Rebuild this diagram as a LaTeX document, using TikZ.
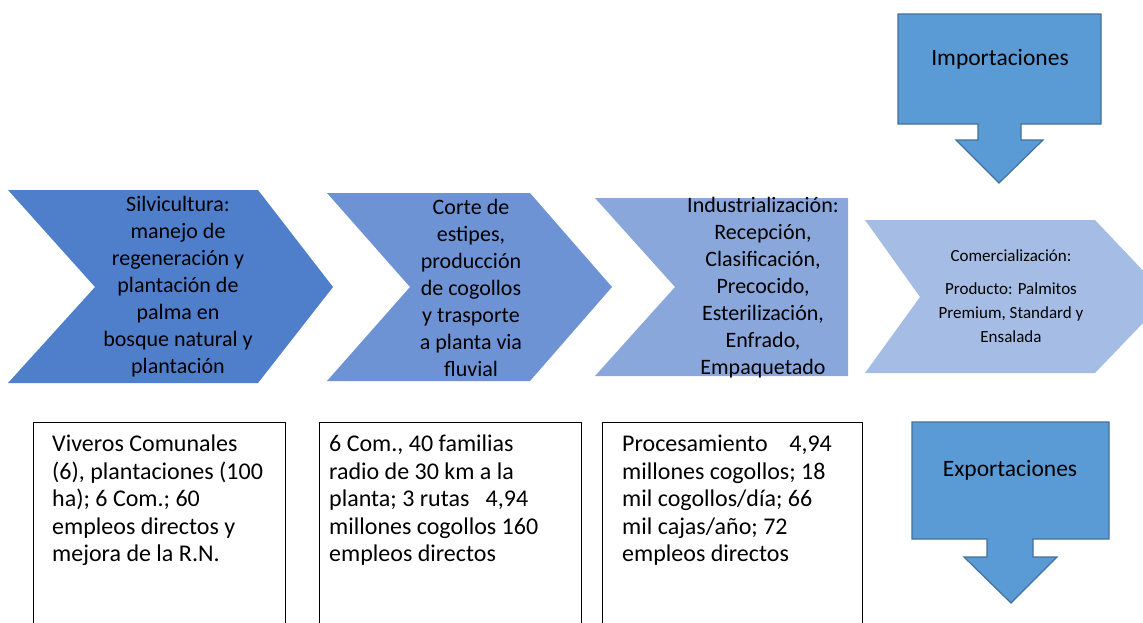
\documentclass[tikz,border=0pt]{standalone}
\usepackage{fontspec}
\setmainfont{Carlito}
\definecolor{chA}{HTML}{4F7ECB}
\definecolor{chB}{HTML}{6E93D5}
\definecolor{chC}{HTML}{8AA7DC}
\definecolor{chD}{HTML}{A5BDE4}
\definecolor{arFill}{HTML}{5B9BD5}
\definecolor{arLine}{HTML}{41719C}
\tikzset{
  chevtext/.style={align=center, inner sep=0pt, text=black, font=\fontsize{22}{27}\selectfont},
  boxtext/.style={align=left, anchor=north west, inner sep=0pt, text=black, font=\fontsize{24}{27.5}\selectfont},
  infobox/.style={draw=black, line width=0.9pt},
  bigarrow/.style={fill=arFill, draw=arLine, line width=1.2pt, line join=miter},
  arrowtext/.style={inner sep=0pt, text=black, font=\fontsize{23.5}{28}\selectfont}
}
\begin{document}
\begin{tikzpicture}[x=1pt,y=-1pt]
\useasboundingbox (0,0) rectangle (1143,622);
\clip (0,0) rectangle (1143,622);
\fill[white] (0,0) rectangle (1143,622);

% chevrons
\fill[chA] (8,190) -- (258,190) -- (333,287) -- (258,383) -- (8,383) -- (95,287) -- cycle;
\fill[chB] (327,193) -- (530,193) -- (612,287) -- (530,381) -- (327,381) -- (410,287) -- cycle;
\fill[chC] (595,198) -- (848,198) -- (848,376) -- (595,376) -- (675,287) -- cycle;
\fill[chD] (865,220) -- (1095,220) -- (1168,297) -- (1095,373) -- (865,373) -- (920,297) -- cycle;

\node[chevtext] (silv) at (178,287) {Silvicultura:\\manejo de\\regeneración y\\plantación de\\palma en\\bosque natural y\\plantación};
\node[chevtext] (corte) at (471,288) {Corte de\\estipes,\\producción\\de cogollos\\y trasporte\\a planta via\\fluvial};
\node[chevtext] (indus) at (763,288) {Industrialización:\\Recepción,\\Clasificación,\\Precocido,\\Esterilización,\\Enfrado,\\Empaquetado};
\node[chevtext, font=\fontsize{17}{24}\selectfont] (comer) at (1011,296) {Comercialización:\\[9pt]Producto: Palmitos\\Premium, Standard y\\Ensalada};

% info boxes
\draw[infobox] (33,640) -- (33,422) -- (285,422) -- (285,640);
\draw[infobox] (319,640) -- (319,422) -- (581,422) -- (581,640);
\draw[infobox] (602,640) -- (602,422) -- (862,422) -- (862,640);

\node[boxtext] (viv) at (52,435) {Viveros Comunales\\(6), plantaciones (100\\ha); 6 Com.; 60\\empleos directos y\\mejora de la R.N.};
\node[boxtext] (com) at (329,435) {6 Com., 40 familias\\radio de 30 km a la\\planta; 3 rutas\ \ \ 4,94\\millones cogollos 160\\empleos directos};
\node[boxtext] (proc) at (622,435) {Procesamiento\ \ \ \ 4,94\\millones cogollos; 18\\mil cogollos/día; 66\\mil cajas/año; 72\\empleos directos};

% import / export arrows
\draw[bigarrow] (898,14) -- (1101,14) -- (1101,124) -- (1021,124) -- (1021,140) -- (1043,140) -- (999,183) -- (956,140) -- (978,140) -- (978,124) -- (898,124) -- cycle;
\node[arrowtext] (imp) at (1000,59) {Importaciones};

\draw[bigarrow] (912,422) -- (1109,422) -- (1109,539) -- (1033,539) -- (1033,557) -- (1057,557) -- (1011,603) -- (964,557) -- (987,557) -- (987,539) -- (912,539) -- cycle;
\node[arrowtext] (exp) at (1010,470) {Exportaciones};
\end{tikzpicture}
\end{document}
